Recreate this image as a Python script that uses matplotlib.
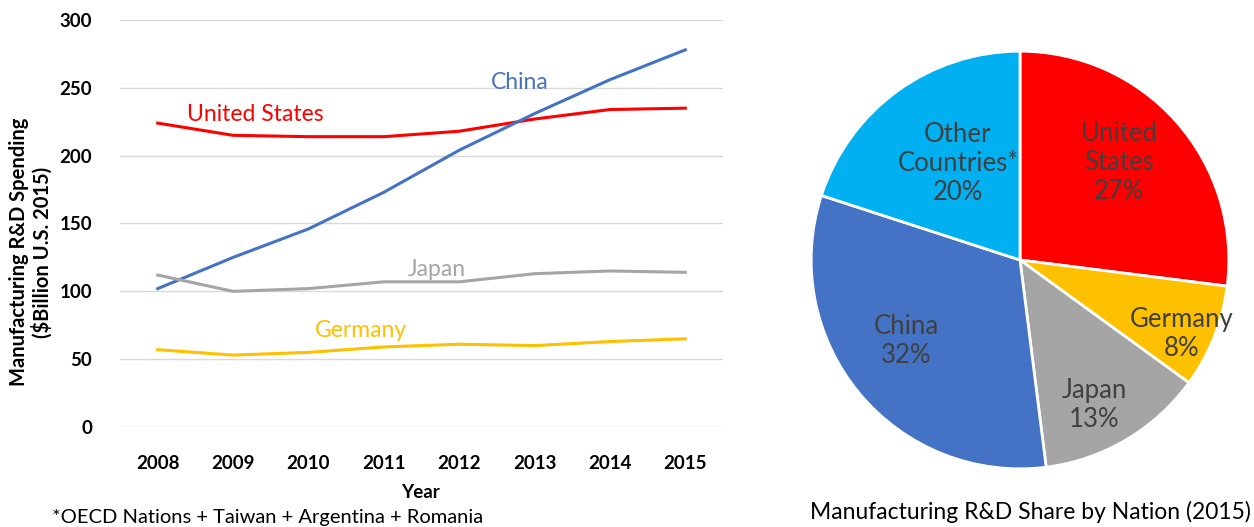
import matplotlib
matplotlib.use("Agg")
import matplotlib.pyplot as plt
import math

plt.rcParams['font.family'] = ['Lato', 'DejaVu Sans']

years = [2008, 2009, 2010, 2011, 2012, 2013, 2014, 2015]
us = [224, 215, 214, 214, 218, 227, 234, 235]
china = [102, 125, 146, 173, 204, 231, 256, 278]
japan = [112, 100, 102, 107, 107, 113, 115, 114]
germany = [57, 53, 55, 59, 61, 60, 63, 65]
yticks = [0, 50, 100, 150, 200, 250, 300]

pie_labels = ["United\nStates", "Germany", "Japan", "China", "Other\nCountries*"]
pie_shares = [27, 8, 13, 32, 20]
pie_colors = ["#FF0000", "#FFC000", "#A5A5A5", "#4472C4", "#00B0F0"]
label_dist = [0.667, 0.85, 0.78, 0.67, 0.55]
label_angle_off = [3.3, -3.0, -3.4, -4.0, -3.3]

W, H = 1254, 527
fig = plt.figure(figsize=(W / 100, H / 100), dpi=100)

# Line chart
ax = fig.add_axes([120 / W, (H - 427) / H, (723 - 120) / W, (427 - 20) / H])
ax.plot(years, us, color="#FF0000", lw=2.2)
ax.plot(years, china, color="#4472C4", lw=2.2)
ax.plot(years, japan, color="#A5A5A5", lw=2.2)
ax.plot(years, germany, color="#FFC000", lw=2.2)
ax.set_xlim(2007.5, 2015.5)
ax.set_ylim(0, 300)
ax.set_yticks(yticks)
ax.set_xticks(years)
ax.grid(axis='y', color="#D9D9D9", lw=1)
ax.set_axisbelow(True)
for s in ax.spines.values():
    s.set_visible(False)
ax.tick_params(length=0, labelsize=13.5)
ax.tick_params(axis='x', pad=20)
ax.tick_params(axis='y', pad=20)
for t in ax.get_xticklabels() + ax.get_yticklabels():
    t.set_fontweight('bold')
xl = ax.set_xlabel("Year", fontweight='bold', fontsize=13.5)
xl.set_va('center')
ax.xaxis.set_label_coords(0.4975, -0.16)
yl = ax.set_ylabel("Manufacturing R&D Spending\n($Billion U.S. 2015)", fontweight='bold',
                   fontsize=14.5, linespacing=1.1)
yl.set_va('center')
ax.yaxis.set_label_coords(-0.148, 0.43)

ax.text(2009.3, 230, "United States", color="#FF0000", fontsize=16.5, ha='center', va='center')
ax.text(2012.8, 254, "China", color="#4472C4", fontsize=16.5, ha='center', va='center')
ax.text(2011.7, 116, "Japan", color="#A5A5A5", fontsize=16.5, ha='center', va='center')
ax.text(2010.7, 71, "Germany", color="#FFC000", fontsize=16.5, ha='center', va='center')

fig.text(52 / W, 1 - 517 / H, "*OECD Nations + Taiwan + Argentina + Romania",
         fontsize=14.5, ha='left', va='center', color="#000000")

# Pie chart
r = 213
cx, cy = 1020, 260
pax = fig.add_axes([(cx - r) / W, (H - cy - r) / H, 2 * r / W, 2 * r / H])
wedges, texts = pax.pie(pie_shares, labels=pie_labels, colors=pie_colors, startangle=90,
                        counterclock=False, radius=1.0,
                        wedgeprops=dict(edgecolor='white', linewidth=2))
angle = 90.0
for i, (w, t) in enumerate(zip(wedges, texts)):
    span = pie_shares[i] / sum(pie_shares) * 360
    mid = math.radians(angle - span / 2 + label_angle_off[i])
    angle -= span
    d = label_dist[i]
    t.set_position((d * math.cos(mid), d * math.sin(mid)))
    t.set_text(f"{pie_labels[i]}\n{pie_shares[i]}%")
    t.set_ha('center')
    t.set_va('center')
    t.set_fontsize(18.5)
    t.set_color("#404040")
    t.set_linespacing(1.2)
pax.set_xlim(-1.02, 1.02)
pax.set_ylim(-1.02, 1.02)
pax.set_aspect('equal')

fig.text(1030 / W, 1 - 512 / H, "Manufacturing R&D Share by Nation (2015)",
         fontsize=16.5, ha='center', va='center', color="#000000")

fig.savefig("out.png", dpi=100)
